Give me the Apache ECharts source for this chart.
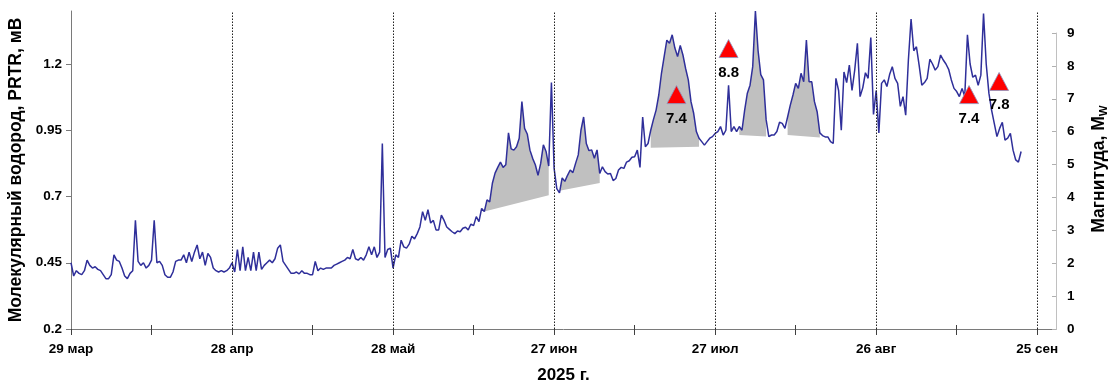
<!DOCTYPE html>
<html>
<head>
<meta charset="utf-8">
<script src="https://cdn.jsdelivr.net/npm/echarts@6/dist/echarts.min.js"></script>
<style>
  html, body { margin: 0; padding: 0; background: #fff; }
  #chart { width: 1113px; height: 385px; }
</style>
</head>
<body>
<div id="chart"></div>
<script>
// Molecular hydrogen (PRTR, mV), half-day steps from 29 Mar 2025
const STEP = 0.5;
const h2 = [
  0.45, 0.40, 0.42, 0.41, 0.405, 0.42, 0.46, 0.44, 0.43, 0.435,
  0.425, 0.42, 0.405, 0.39, 0.39, 0.405, 0.48, 0.46, 0.455, 0.43,
  0.40, 0.39, 0.41, 0.42, 0.61, 0.455, 0.44, 0.45, 0.43, 0.44,
  0.46, 0.61, 0.45, 0.455, 0.44, 0.405, 0.395, 0.395, 0.415, 0.455,
  0.46, 0.46, 0.48, 0.45, 0.49, 0.455, 0.49, 0.517, 0.465, 0.49,
  0.44, 0.485, 0.47, 0.43, 0.42, 0.415, 0.42, 0.415, 0.42, 0.43,
  0.45, 0.415, 0.50, 0.42, 0.51, 0.42, 0.47, 0.42, 0.49, 0.42,
  0.49, 0.425, 0.44, 0.45, 0.46, 0.45, 0.465, 0.505, 0.517, 0.455,
  0.44, 0.425, 0.41, 0.41, 0.415, 0.408, 0.42, 0.41, 0.41, 0.405,
  0.405, 0.455, 0.42, 0.43, 0.425, 0.43, 0.43, 0.43, 0.44, 0.445,
  0.45, 0.455, 0.46, 0.47, 0.465, 0.50, 0.465, 0.46, 0.47, 0.46,
  0.48, 0.51, 0.48, 0.51, 0.47, 0.49, 0.90, 0.47, 0.50, 0.505,
  0.43, 0.48, 0.47, 0.535, 0.51, 0.505, 0.52, 0.55, 0.54, 0.56,
  0.585, 0.643, 0.61, 0.65, 0.60, 0.61, 0.574, 0.574, 0.63, 0.61,
  0.585, 0.576, 0.567, 0.56, 0.57, 0.567, 0.58, 0.584, 0.574, 0.596,
  0.59, 0.624, 0.605, 0.655, 0.643, 0.687, 0.68, 0.75, 0.788, 0.81,
  0.83, 0.81, 0.82, 0.94, 0.88, 0.875, 0.888, 0.92, 1.058, 0.957,
  0.936, 0.875, 0.844, 0.82, 0.78, 0.825, 0.895, 0.87, 0.815, 1.13,
  0.806, 0.73, 0.714, 0.77, 0.757, 0.78, 0.80, 0.79, 0.825, 0.857,
  0.95, 1.0, 0.90, 0.873, 0.876, 0.844, 0.876, 0.787, 0.812, 0.794,
  0.785, 0.787, 0.76, 0.768, 0.80, 0.81, 0.806, 0.83, 0.835, 0.848,
  0.85, 0.875, 0.81, 1.0, 0.888, 0.90, 0.95, 0.99, 1.026, 1.083,
  1.165, 1.228, 1.29, 1.278, 1.31, 1.26, 1.228, 1.27, 1.234, 1.183,
  1.14, 1.058, 1.014, 0.945, 0.92, 0.907, 0.894, 0.907, 0.92, 0.926,
  0.938, 0.945, 0.964, 0.932, 0.95, 1.12, 0.945, 0.964, 0.945, 0.964,
  0.95, 1.026, 1.09, 1.12, 1.19, 1.40, 1.25, 1.16, 1.14, 0.99,
  0.926, 0.932, 0.932, 0.945, 0.98, 0.976, 0.957, 1.0, 1.045, 1.083,
  1.127, 1.108, 1.165, 1.133, 1.29, 1.133, 1.133, 1.058, 1.02, 0.94,
  0.93, 0.925, 0.925, 0.907, 0.90, 1.146, 1.10, 0.95, 1.17, 1.13,
  1.196, 1.10, 1.177, 1.278, 1.077, 1.11, 1.167, 1.146, 1.30, 1.01,
  1.10, 0.94, 1.127, 1.14, 1.115, 1.16, 1.19, 1.146, 1.127, 1.04,
  1.077, 1.007, 1.215, 1.37, 1.25, 1.265, 1.196, 1.12, 1.13, 1.146,
  1.218, 1.20, 1.177, 1.19, 1.234, 1.215, 1.20, 1.18, 1.14, 1.108,
  1.096, 1.077, 1.108, 1.077, 1.31, 1.20, 1.15, 1.158, 1.12, 1.158,
  1.39, 1.20, 1.09, 1.026, 0.976, 0.926, 0.957, 0.98, 0.913, 0.92,
  0.938, 0.875, 0.838, 0.83, 0.87
];

// Anomaly windows (day numbers) with the trend level at each end
const fillStart     = [77,    91,    108,   124.5, 133.5];
const fillEnd       = [89,    98.5,  117,   129.5, 139.5];
const fillBaseStart = [0.643, 0.722, 0.884, 0.932, 0.932];
const fillBaseEnd   = [0.705, 0.751, 0.888, 0.926, 0.923];

// Earthquakes: day number and magnitude Mw
const quakeDay = [112.8, 122.5, 167.3, 172.9];
const quakeMag = [7.4, 8.8, 7.4, 7.8];

// Axis ticks and labels
const dateLabelDays = [0, 30, 60, 90, 120, 150, 180];
const dateLabels = ['29 мар', '28 апр', '28 май', '27 июн', '27 июл', '26 авг', '25 сен'];
const majorTickDays = [0, 30, 60, 90, 120, 150, 180];
const minorTickDays = [15, 45, 75, 105, 135, 165];
const gridDays = [30, 60, 90, 120, 150, 180];
const h2Ticks = [0.2, 0.45, 0.7, 0.95, 1.2];
const magTicks = [0, 1, 2, 3, 4, 5, 6, 7, 8, 9];

const FONT = "'Liberation Sans', Arial, sans-serif";
const AXIS_GREY = '#7a7a7a';

const lineData = h2.map((v, i) => [i * STEP, v]);
const fillData = fillStart.map((s, i) => [s, fillBaseStart[i], fillEnd[i], fillBaseEnd[i]]);
const quakeData = quakeDay.map((d, i) => [d, quakeMag[i]]);

const chart = echarts.init(document.getElementById('chart'), null, { renderer: 'canvas' });

chart.setOption({
  animation: false,
  backgroundColor: '#ffffff',
  textStyle: { fontFamily: FONT },
  grid: [
    { left: 71, right: 57, top: 11, bottom: 56, outerBoundsMode: 'none', containLabel: false },
    { left: 71, right: 57, top: 33, bottom: 56, outerBoundsMode: 'none', containLabel: false }
  ],
  xAxis: [
    {
      type: 'value', gridIndex: 0, min: 0, max: 183.5,
      name: '2025 г.', nameLocation: 'middle', nameGap: 38,
      nameTextStyle: { fontSize: 17, fontWeight: 'bold', color: '#000', fontFamily: FONT },
      axisLine: { show: true, onZero: false, lineStyle: { color: AXIS_GREY, width: 1 } },
      axisTick: { show: true, length: 6, customValues: majorTickDays.concat(minorTickDays), lineStyle: { color: '#404040' } },
      axisLabel: {
        customValues: dateLabelDays,
        margin: 13, fontSize: 13.5, fontWeight: 'bold', color: '#000', fontFamily: FONT,
        formatter: v => { const i = dateLabelDays.indexOf(Math.round(v)); return i >= 0 ? dateLabels[i] : ''; }
      },
      splitLine: { show: false }
    },
    {
      // upward half of the mid-month ticks
      type: 'value', gridIndex: 1, min: 0, max: 183.5, position: 'bottom',
      axisLine: { show: false, onZero: false },
      axisTick: { show: true, inside: true, length: 4, customValues: minorTickDays, lineStyle: { color: '#404040' } },
      axisLabel: { show: false },
      splitLine: { show: false }
    }
  ],
  yAxis: [
    {
      type: 'value', gridIndex: 0, min: 0.2, max: 1.4, position: 'left',
      name: 'Молекулярный водород, PRTR, мВ', nameLocation: 'middle', nameGap: 41, nameRotate: 90,
      nameTextStyle: { fontSize: 17.5, fontWeight: 'bold', color: '#000', fontFamily: FONT },
      axisLine: { show: true, onZero: false, lineStyle: { color: AXIS_GREY, width: 1 } },
      axisTick: { show: true, length: 5, customValues: h2Ticks, lineStyle: { color: AXIS_GREY } },
      axisLabel: {
        customValues: h2Ticks, margin: 9, fontSize: 13.5, fontWeight: 'bold', color: '#000', fontFamily: FONT,
        formatter: v => String(Math.round(v * 100) / 100)
      },
      splitLine: { show: false }
    },
    {
      type: 'value', gridIndex: 1, position: 'right', min: 0, max: 9, interval: 1,
      axisLine: { show: true, onZero: false, lineStyle: { color: '#c0c0c0', width: 1 } },
      axisTick: { show: true, inside: true, length: 4, customValues: magTicks, lineStyle: { color: '#b0b0b0' } },
      axisLabel: { customValues: magTicks, margin: 11, fontSize: 13.5, fontWeight: 'bold', color: '#000', fontFamily: FONT },
      splitLine: { show: false }
    }
  ],
  graphic: [
    {
      type: 'text', x: 1100, y: 169, rotation: Math.PI / 2, z: 10,
      style: {
        text: '{a|Магнитуда, M}{s|W}',
        align: 'center', verticalAlign: 'middle',
        rich: {
          a: { fontSize: 17.5, fontWeight: 'bold', fill: '#000', fontFamily: FONT, lineHeight: 20, verticalAlign: 'top' },
          s: { fontSize: 11.5, fontWeight: 'bold', fill: '#000', fontFamily: FONT, lineHeight: 12, padding: [8, 0, 0, 0], verticalAlign: 'top' }
        }
      }
    }
  ],
  series: [
    {
      // grey anomaly areas between the record and its trend
      type: 'custom', xAxisIndex: 0, yAxisIndex: 0, z: 1, silent: true,
      data: fillData,
      encode: { x: [0, 2], y: [1, 3] },
      renderItem: (params, api) => {
        const i = params.dataIndex;
        const s = fillStart[i], e = fillEnd[i];
        const pts = [api.coord([s, fillBaseStart[i]])];
        h2.forEach((v, k) => {
          const d = k * STEP;
          if (d >= s - 1e-9 && d <= e + 1e-9) pts.push(api.coord([d, v]));
        });
        pts.push(api.coord([e, fillBaseEnd[i]]));
        return { type: 'polygon', shape: { points: pts }, style: { fill: '#c0c0c0', stroke: null } };
      }
    },
    {
      type: 'line', xAxisIndex: 0, yAxisIndex: 0, z: 3,
      data: lineData, showSymbol: false, symbol: 'none', sampling: null,
      lineStyle: { color: '#2f2f9a', width: 1.5 },
      markLine: {
        silent: true, symbol: ['none', 'none'], label: { show: false },
        lineStyle: { type: [1.5, 1.5], color: '#202020', width: 1 },
        emphasis: { disabled: true },
        data: gridDays.map(d => ({ xAxis: d }))
      }
    },
    {
      type: 'scatter', xAxisIndex: 1, yAxisIndex: 1, z: 5,
      data: quakeData,
      symbol: 'triangle', symbolSize: [19, 18], symbolOffset: [0, 9],
      itemStyle: { color: '#ff0000', borderColor: '#8a96c0', borderWidth: 0.8, opacity: 1 },
      label: {
        show: true, position: 'bottom', distance: 7,
        fontSize: 15, fontWeight: 'bold', color: '#000', fontFamily: FONT,
        formatter: p => p.value[1].toFixed(1)
      },
      emphasis: { disabled: true }
    }
  ]
});
</script>
</body>
</html>
